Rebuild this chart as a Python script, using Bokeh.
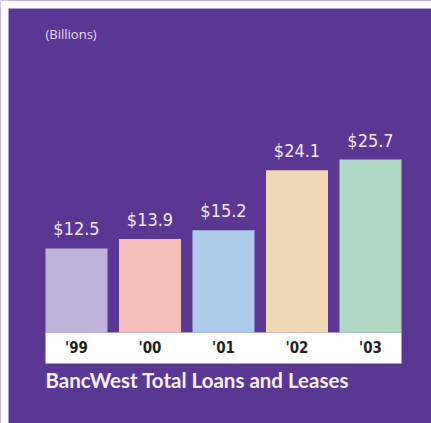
from bokeh.plotting import figure
from bokeh.models import Range1d, BoxAnnotation, Label, ColumnDataSource
from bokeh.core.properties import value
from bokeh.embed import file_html
from bokeh.resources import INLINE

years = ["'99", "'00", "'01", "'02", "'03"]
loans = [12.5, 13.9, 15.2, 24.1, 25.7]
labels = ["$12.5", "$13.9", "$15.2", "$24.1", "$25.7"]
colors = ["#BFB3D9", "#F2BFB8", "#AECAE9", "#F1D8B5", "#AED8C3"]

PURPLE = "#5B3794"
COND = "'DejaVu Sans Condensed', 'Roboto', sans-serif"
M = 8                 # white page margin drawn inside the canvas
W, H = 431, 423       # canvas size
xs = list(range(len(years)))
pitch = 73.5          # pixels between bar centres
bw = 62 / pitch       # bar width in category units
x_start = -(M + 37 + 31) / pitch
ppu = 6.73            # pixels per billion
y_top = (M + 324) / ppu
y_min = -(H - M - 324) / ppu
y_strip = -31 / ppu   # bottom of the white year strip

src = ColumnDataSource(dict(x=xs, top=loans, lab=labels, yr=years, color=colors))

p = figure(width=W, height=H, output_backend="svg", toolbar_location=None,
           x_range=Range1d(x_start, x_start + W / pitch),
           y_range=Range1d(y_min, y_top))
p.background_fill_color = PURPLE
p.border_fill_color = PURPLE
p.outline_line_color = None
p.grid.visible = False
p.axis.visible = False
p.min_border = 0

# white page margin at top and left
p.add_layout(BoxAnnotation(right=x_start + M / pitch, fill_color="white", fill_alpha=1,
                           line_alpha=0, level="underlay"))
p.add_layout(BoxAnnotation(bottom=y_top - M / ppu, fill_color="white", fill_alpha=1,
                           line_alpha=0, level="underlay"))

p.add_layout(BoxAnnotation(left=-bw / 2, right=len(years) - 1 + bw / 2,
                           top=0, bottom=y_strip, fill_color="white", fill_alpha=1,
                           line_alpha=0, level="underlay"))

p.vbar(x="x", top="top", bottom=0, width=bw, fill_color="color", line_color=None, source=src)

p.text(x="x", y="top", text="lab", source=src, text_align="center", text_baseline="bottom",
       y_offset=-9, text_color="#EEE8F5", text_font_size="18px",
       text_font=value(COND))

p.text(x="x", y=0, text="yr", source=src, text_align="center", text_baseline="middle",
       y_offset=15, text_color="#231F20", text_font_size="15px", text_font_style="bold",
       text_font=value(COND))

p.add_layout(Label(x=-bw / 2, y=y_strip, text="BancWest Total Loans and Leases",
                   text_baseline="top", y_offset=-4, text_color="#F4F0F8",
                   text_font_size="20.5px", text_font_style="bold", text_font="Lato"))

p.add_layout(Label(x=-bw / 2, y=y_top, text="(Billions)",
                   text_baseline="top", y_offset=-24, text_color="#E4DCEE",
                   text_font_size="13px", text_font="Open Sans"))

open("out.html", "w").write(file_html(p, INLINE))
